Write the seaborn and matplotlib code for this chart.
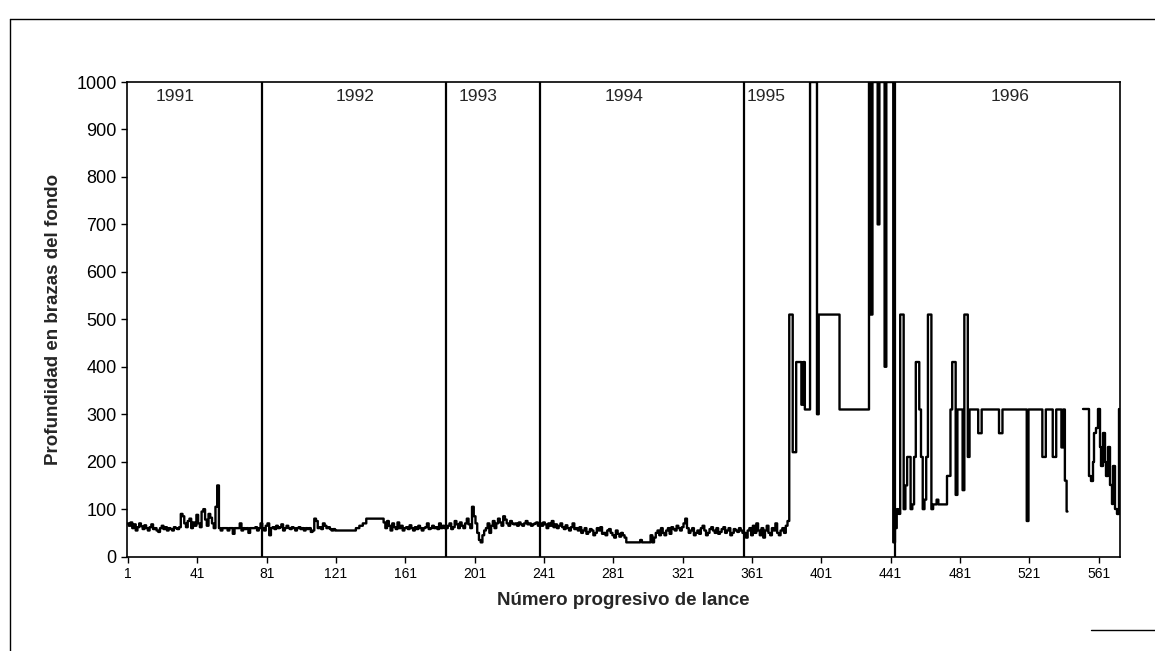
import numpy as np
import pandas as pd
import matplotlib
matplotlib.use("Agg")
import matplotlib.pyplot as plt
from matplotlib.lines import Line2D
import seaborn as sns

# Bottom depth (fathoms) per haul, grouped by fishing year
depth_1991 = [70, 65, 72, 60, 68, 55, 62, 70, 64, 58,
              66, 60, 55, 62, 68, 58, 60, 55, 52, 60,
              65, 58, 62, 55, 60, 58, 55, 62, 60, 58,
              62, 90, 85, 70, 62, 75, 80, 60, 72, 65,
              88, 70, 62, 95, 100, 78, 65, 90, 82, 70,
              60, 105, 150, 60, 55, 60, 60, 60, 55, 60,
              60, 48, 60, 60, 60, 70, 55, 60, 58, 60,
              50, 60, 60, 60, 62, 55, 60, 70]
depth_1992 = [60, 55, 65, 70, 45, 60, 62, 58, 65, 60,
              62, 68, 55, 60, 65, 60, 58, 62, 60, 55,
              60, 62, 58, 60, 55, 60, 58, 60, 52, 55,
              80, 75, 60, 62, 58, 70, 65, 60, 62, 58,
              55, 58, 55, 55, 55, 55, 55, 55, 55, 55,
              55, 55, 55, 55, 60, 60, 65, 65, 70, 70,
              80, 80, 80, 80, 80, 80, 80, 80, 80, 80,
              72, 60, 75, 65, 55, 70, 62, 58, 72, 60,
              65, 55, 60, 62, 58, 66, 60, 55, 62, 58,
              65, 60, 55, 60, 62, 70, 58, 60, 65, 60,
              62, 58, 70, 60, 65, 60]
depth_1993 = [60, 65, 70, 58, 62, 75, 68, 60, 72, 65,
              60, 70, 80, 68, 60, 105, 85, 70, 50, 35,
              30, 45, 55, 60, 70, 50, 65, 75, 60, 70,
              80, 72, 65, 85, 78, 70, 65, 75, 70, 68,
              70, 65, 72, 68, 65, 70, 75, 68, 70, 65,
              68, 70, 72, 65]
depth_1994 = [70, 65, 72, 68, 60, 70, 65, 75, 62, 68,
              60, 65, 70, 62, 58, 66, 60, 55, 62, 70,
              58, 60, 55, 62, 50, 55, 60, 48, 52, 58,
              55, 45, 50, 60, 55, 62, 48, 50, 45, 55,
              58, 50, 45, 40, 55, 48, 42, 50, 45, 40,
              30, 30, 30, 30, 30, 30, 30, 30, 35, 30,
              30, 30, 30, 30, 45, 30, 40, 50, 55, 45,
              60, 50, 45, 55, 60, 48, 62, 58, 55, 65,
              60, 55, 62, 70, 80, 60, 50, 55, 60, 45,
              50, 55, 48, 60, 65, 55, 45, 50, 58, 62,
              55, 50, 60, 48, 52, 58, 62, 50, 55, 60,
              45, 50, 58, 55, 52, 60, 55, 50]
depth_1995 = [50, 40, 55, 60, 45, 65, 50, 70, 55, 45,
              60, 40, 55, 65, 50, 45, 60, 55, 70, 50,
              45, 55, 60, 50, 65, 75,
              510, 510, 220, 220, 410, 410, 410, 320, 410, 310,
              310, 310, 1000, 1000, 1000, 1000, 300, 510,
              510, 510, 510, 510, 510, 510, 510, 510, 510, 510, 510,
              310, 310, 310, 310, 310, 310, 310, 310, 310, 310,
              310, 310, 310, 310, 310, 310, 310,
              1000, 510, 1000, 1000, 1000, 700, 1000, 1000, 1000, 400,
              1000, 1000, 1000, 1000, 30]
depth_1996 = [60, 100, 90, 510, 510, 100, 150, 210, 210, 100,
              110, 210, 410, 410, 310, 210, 100, 120, 210, 510,
              510, 100, 110, 110, 120, 110, 110, 110, 110, 110,
              170, 170, 310, 410, 410, 130, 310, 310, 310, 140,
              510, 510, 210, 310, 310, 310, 310, 310, 260, 260,
              310, 310, 310, 310, 310, 310, 310, 310, 310, 310,
              260, 260, 310, 310, 310, 310, 310, 310, 310, 310,
              310, 310, 310, 310, 310, 310, 75, 310, 310, 310,
              310, 310, 310, 310, 310, 210, 210, 310, 310, 310,
              310, 210, 210, 310, 310, 310, 230, 310, 160, 95,
              np.nan, np.nan, np.nan, np.nan, np.nan, np.nan, np.nan, np.nan,
              310, 310, 310, 310, 170, 160, 200, 260, 270, 310,
              230, 190, 260, 200, 170, 230, 150, 110, 190, 100,
              90, 310]

years = ["1991", "1992", "1993", "1994", "1995", "1996"]
year_depths = [depth_1991, depth_1992, depth_1993, depth_1994, depth_1995, depth_1996]
year_label_haul = [28, 132, 203, 287, 369, 510]
xtick_hauls = list(range(1, 562, 40))
ytick_values = list(range(0, 1001, 100))

depth = np.concatenate([np.asarray(d, dtype=float) for d in year_depths])
haul = np.arange(1, len(depth) + 1)
# a break in the record splits the line in two pieces
segment = np.cumsum(np.isnan(depth))
df = pd.DataFrame({"haul": haul, "depth": depth, "segment": segment}).dropna()

sns.set_style("white")
plt.rcParams["font.family"] = ["Liberation Sans", "DejaVu Sans"]

fig = plt.figure(figsize=(11.55, 6.51), dpi=100)
ax = fig.add_axes([0.110, 0.145, 0.860, 0.729])

sns.lineplot(data=df, x="haul", y="depth", units="segment", estimator=None,
             color="black", linewidth=1.7, drawstyle="steps-mid", ax=ax,
             legend=False)

# year separators
bounds = np.cumsum([len(d) for d in year_depths])[:-1] + 0.5
for b in bounds:
    ax.axvline(b, color="black", linewidth=1.6, zorder=3)

for lab, xh in zip(years, year_label_haul):
    ax.text(xh, 985, lab, ha="center", va="top", fontsize=12.5)

ax.set_xlim(0.5, len(depth) + 0.5)
ax.set_ylim(0, 1000)
ax.set_xticks(xtick_hauls)
ax.set_xticklabels([str(v) for v in xtick_hauls], fontsize=10)
ax.set_yticks(ytick_values)
ax.set_yticklabels([str(v) for v in ytick_values], fontsize=13)
ax.tick_params(axis="both", direction="out", length=4, width=1, colors="black",
               left=True, bottom=True)
for s in ax.spines.values():
    s.set_color("black")
    s.set_linewidth(1.2)

ax.set_xlabel("Número progresivo de lance", fontsize=13.5, fontweight="bold",
              labelpad=8)
ax.set_ylabel("Profundidad en brazas del fondo", fontsize=13.5,
              fontweight="bold", labelpad=10)

# outer frame around the figure
fig.add_artist(Line2D([0.009, 1.0], [0.971, 0.971], transform=fig.transFigure,
                      color="black", linewidth=1.0))
fig.add_artist(Line2D([0.009, 0.009], [0.0, 0.971], transform=fig.transFigure,
                      color="black", linewidth=1.0))
fig.add_artist(Line2D([0.945, 1.0], [0.032, 0.032], transform=fig.transFigure,
                      color="black", linewidth=1.0))

fig.savefig("out.png", dpi=100, facecolor="white")
